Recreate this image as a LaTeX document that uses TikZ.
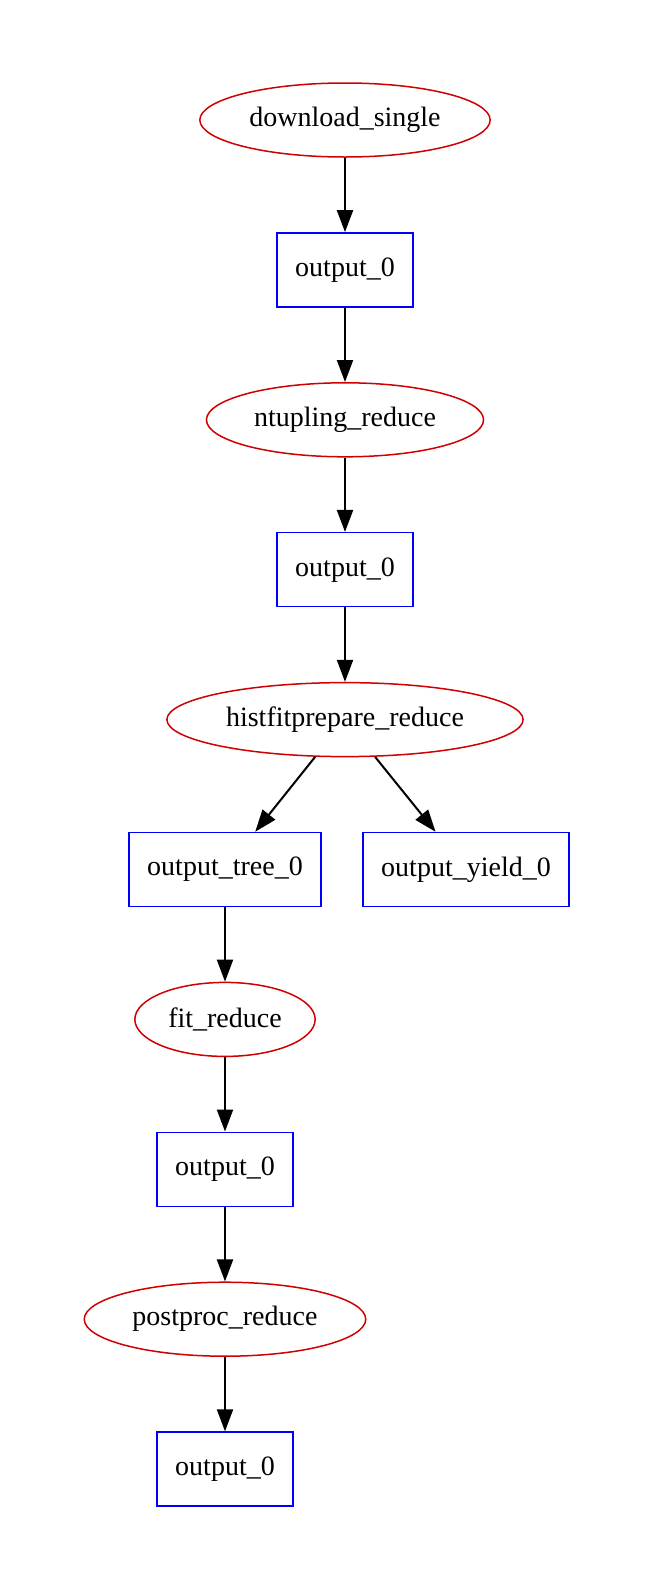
\documentclass[tikz,border=0pt]{standalone}
\usepackage{fontspec}
\setmainfont{Liberation Serif}
\usetikzlibrary{arrows.meta,positioning,shapes.geometric}
\definecolor{jobred}{HTML}{D00000}
\definecolor{resblue}{HTML}{0000FF}

\begin{document}
\begin{tikzpicture}[x=0.5pt,y=-0.5pt,font=\fontsize{14}{17}\selectfont,node distance=37.2pt,
              job/.style={ellipse,draw=jobred,line width=0.75pt,inner xsep=3.5pt,minimum height=37pt},
              res/.style={rectangle,draw=resblue,line width=0.75pt,inner xsep=9pt,minimum height=37pt},
              flow/.style={-{Triangle[length=11pt,width=8pt]},line width=1pt}]
              \useasboundingbox (0,0) rectangle (654,1591);
              \node[job] (dl) at (345,120) {download\_single};
              \node[res,below=of dl] (o1) {output\_0};
              \node[job,below=of o1] (nt) {ntupling\_reduce};
              \node[res,below=of nt] (o2) {output\_0};
              \node[job,below=of o2] (hf) {histfitprepare\_reduce};
              \node[res,below=of hf,xshift=-60pt] (tree) {output\_tree\_0};
              \node[res,below=of hf,xshift=60.5pt] (yield) {output\_yield\_0};
              \node[job,below=of tree] (fit) {fit\_reduce};
              \node[res,below=of fit] (o3) {output\_0};
              \node[job,below=of o3] (pp) {postproc\_reduce};
              \node[res,below=of pp] (o4) {output\_0};
              \draw[flow] (dl)--(o1); \draw[flow] (o1)--(nt); \draw[flow] (nt)--(o2);
              \draw[flow] (o2)--(hf); \draw[flow] (hf)--(tree); \draw[flow] (hf)--(yield);
              \draw[flow] (tree)--(fit); \draw[flow] (fit)--(o3); \draw[flow] (o3)--(pp);
              \draw[flow] (pp)--(o4);
            \end{tikzpicture}
\end{document}
